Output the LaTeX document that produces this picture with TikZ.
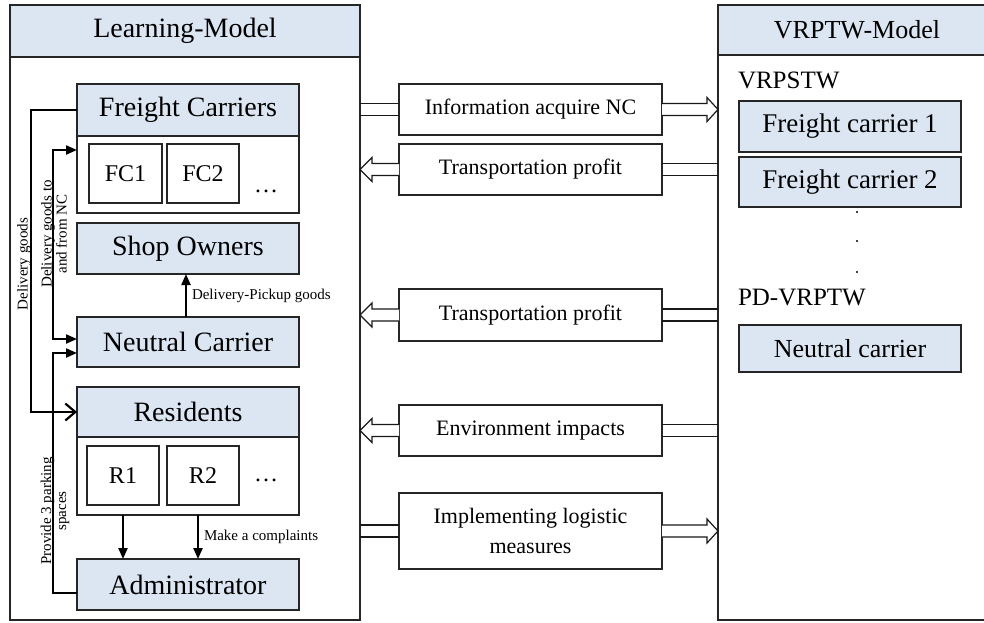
\documentclass[tikz,border=0pt]{standalone}
\usepackage{fontspec}
\setmainfont{Liberation Serif}
\usetikzlibrary{arrows.meta,calc}
\definecolor{boxblue}{HTML}{DCE6F2}

% rectangle node from its two corners: style, name, x1, y1, x2, y2, then {text}
\newcommand\rectnode[6]{\node[#1,minimum width={(#5)-(#3)},minimum height={(#6)-(#4)}] (#2) at ({((#3)+(#5))/2},{((#4)+(#6))/2})}

% wide hollow arrow from a middle box towards the right panel
\newcommand\hollowright[1]{%
  \draw[hollow] ($(#1.west -| L.east)+(0,-6)$) -- ($(#1.west)+(0,-6)$);
  \draw[hollow] ($(#1.west -| L.east)+(0,6)$) -- ($(#1.west)+(0,6)$);
  \draw[hollow] ($(#1.east)+(0,-6)$) -- ($(#1.east -| R.west)+(-11,-6)$)
    -- ($(#1.east -| R.west)+(-11,-12)$) -- (#1.east -| R.west)
    -- ($(#1.east -| R.west)+(-11,12)$) -- ($(#1.east -| R.west)+(-11,6)$)
    -- ($(#1.east)+(0,6)$);
}
% wide hollow arrow from a middle box towards the left panel
\newcommand\hollowleft[1]{%
  \draw[hollow] ($(#1.west)+(0,-6)$) -- ($(#1.west -| L.east)+(12,-6)$)
    -- ($(#1.west -| L.east)+(12,-12)$) -- (#1.west -| L.east)
    -- ($(#1.west -| L.east)+(12,12)$) -- ($(#1.west -| L.east)+(12,6)$)
    -- ($(#1.west)+(0,6)$);
  \draw[hollow] ($(#1.east)+(0,-6)$) -- ($(#1.east -| R.west)+(0,-6)$);
  \draw[hollow] ($(#1.east)+(0,6)$) -- ($(#1.east -| R.west)+(0,6)$);
}

\begin{document}
\begin{tikzpicture}[x=1pt,y=-1pt,
  every node/.style={inner sep=0pt,outer sep=0pt},
  panel/.style={draw=black!85,line width=1.2pt,fill=white},
  bluebox/.style={draw=black!85,line width=1.2pt,fill=boxblue},
  whitebox/.style={draw=black!85,line width=1.2pt,fill=white},
  fHead/.style={font=\fontsize{28}{32}\selectfont},
  fHeadR/.style={font=\fontsize{26}{30}\selectfont},
  fMain/.style={font=\fontsize{28}{32}\selectfont},
  fSub/.style={font=\fontsize{24}{28}\selectfont},
  fMid/.style={font=\fontsize{22}{30}\selectfont},
  fRight/.style={font=\fontsize{27}{31}\selectfont},
  fTag/.style={font=\fontsize{25}{29}\selectfont},
  lab/.style={font=\fontsize{15}{15}\selectfont},
  conn/.style={line width=2.2pt,black},
  tri/.tip={Triangle[length=11pt,width=9pt]},
  barb/.tip={Straight Barb[length=10pt,width=17pt,line width=2.2pt]},
  hollow/.style={draw=black!90,line width=1.2pt,fill=white},
  dot/.style={circle,fill=black,minimum size=2.4pt}
]
\useasboundingbox (0,0) rectangle (984,622);

% ---- left panel: Learning-Model
\rectnode{panel}{L}{10}{5}{360}{620}{};
\rectnode{bluebox,fHead}{Lh}{10}{5}{360}{57}{Learning-Model};

\rectnode{bluebox,fMain}{FCh}{77}{84}{299}{136}{Freight Carriers};
\rectnode{whitebox}{FCs}{77}{136}{299}{213}{};
\rectnode{whitebox,fSub}{FC1}{89}{144}{162}{203}{FC1};
\rectnode{whitebox,fSub}{FC2}{167}{144}{239}{203}{FC2};
\node[fSub,anchor=base] (FCd) at (266,192) {\ldots};

\rectnode{bluebox,fMain}{SO}{77}{223}{299}{274}{Shop Owners};
\rectnode{bluebox,fMain}{NC}{77}{317}{299}{367}{Neutral Carrier};

\rectnode{bluebox,fMain}{Rh}{77}{387}{299}{437}{Residents};
\rectnode{whitebox}{Rs}{77}{437}{299}{515}{};
\rectnode{whitebox,fSub}{R1}{87}{446}{159}{505}{R1};
\rectnode{whitebox,fSub}{R2}{167}{446}{239}{505}{R2};
\node[fSub,anchor=base] (Rd) at (266,481) {\ldots};

\rectnode{bluebox,fMain}{AD}{77}{559}{299}{610}{Administrator};

% ---- right panel: VRPTW-Model
\rectnode{panel}{R}{718}{5}{996}{620}{};
\rectnode{bluebox,fHeadR}{Rhd}{718}{5}{996}{55}{VRPTW-Model};
\node[fTag,anchor=base west] (T1) at (738,88) {VRPSTW};
\rectnode{bluebox,fRight}{RF1}{739}{101}{961}{152}{Freight carrier 1};
\rectnode{bluebox,fRight}{RF2}{739}{157}{961}{207}{Freight carrier 2};
\node[dot] (d1) at (857,212) {};
\node[dot] (d2) at (857,241) {};
\node[dot] (d3) at (857,272) {};
\node[fTag,anchor=base west] (T2) at (738,305) {PD-VRPTW};
\rectnode{bluebox,fHeadR}{RNC}{739}{325}{961}{372}{Neutral carrier};

% ---- exchanges between the two models
\rectnode{whitebox,fMid}{IA}{399}{84}{662}{135}{Information acquire NC};
\rectnode{whitebox,fMid}{TP1}{399}{144}{662}{195}{Transportation profit};
\rectnode{whitebox,fMid}{TP2}{399}{289}{662}{341}{Transportation profit};
\rectnode{whitebox,fMid}{EI}{399}{405}{662}{456}{Environment impacts};
\rectnode{whitebox,fMid,align=center}{IM}{399}{493}{662}{569}{Implementing logistic\\measures};

\hollowright{IA}
\hollowleft{TP1}
\hollowleft{TP2}
\hollowleft{EI}
\hollowright{IM}

% ---- flows inside the learning model
\draw[conn,-barb] (FCh.west) -- ++(-46,0) |- (Rh.west);
\draw[conn,tri-tri] ($(FCs.north west)+(0,14)$) -- ++(-24,0) |- ($(NC.west)+(0,-3)$);
\draw[conn,-tri] ($(AD.west)+(0,8.5)$) -- ++(-24,0) |- ($(NC.west)+(0,11)$);
\draw[conn,-tri] ($(NC.north)+(-2,0)$) -- node[lab,right,xshift=6pt] (dpg) {Delivery-Pickup goods} ($(SO.south)+(-2,0)$);
\draw[conn,-tri] ($(Rs.south west)+(46,0)$) -- ($(AD.north west)+(46,0)$);
\draw[conn,-tri] ($(Rs.south west)+(121,0)$) -- node[lab,right,xshift=6pt] (mac) {Make a complaints} ($(AD.north west)+(121,0)$);

\node[lab,rotate=90] (dg) at (24,264) {Delivery goods};
\node[lab,rotate=90,align=center] (dgnc) at (54,234) {Delivery goods to\\and from NC};
\node[lab,rotate=90,align=center] (pps) at (55,511) {Provide 3 parking\\spaces};
\end{tikzpicture}
\end{document}
